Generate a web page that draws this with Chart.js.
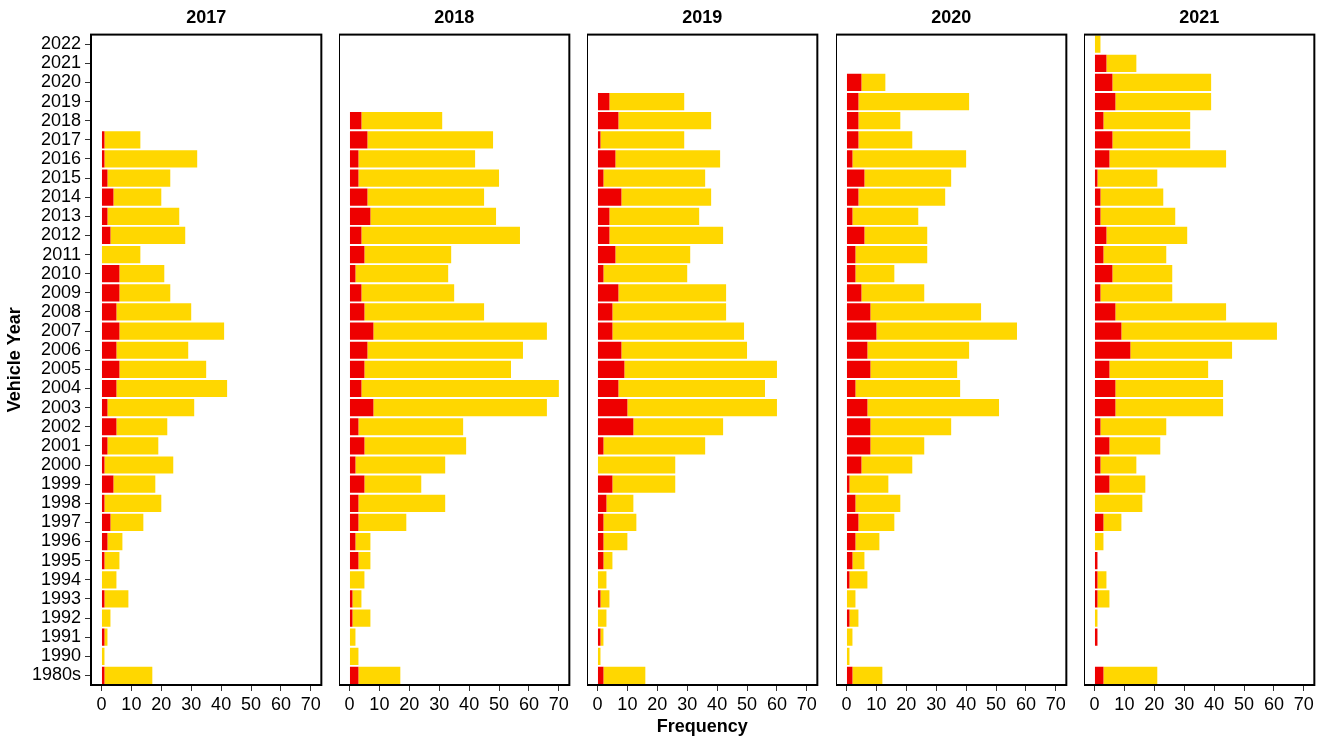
<!DOCTYPE html>
<html>
<head>
<meta charset="utf-8">
<script src="https://cdn.jsdelivr.net/npm/chart.js@4.4.1/dist/chart.umd.min.js"></script>
<style>
  html, body { margin: 0; padding: 0; background: #fff; }
  #wrap { position: relative; width: 1330px; height: 738px; overflow: hidden; background: #fff; }
  #wrap canvas { position: absolute; top: 0; }
</style>
</head>
<body>
<div id="wrap"></div>
<script>
// Vehicle model years, bottom to top
const categories = ['1980s', '1990', '1991', '1992', '1993', '1994', '1995', '1996', '1997', '1998',
  '1999', '2000', '2001', '2002', '2003', '2004', '2005', '2006', '2007', '2008', '2009', '2010',
  '2011', '2012', '2013', '2014', '2015', '2016', '2017', '2018', '2019', '2020', '2021', '2022'];
const xTicks = [0, 10, 20, 30, 40, 50, 60, 70];
const panelYears = ['2017', '2018', '2019', '2020', '2021'];

// Counts per vehicle year (same order as categories): red segment, then gold segment
const red2017  = [1,0,1,0,1,0,1,2,3,1,4,1,2,5,2,5,6,5,6,5,6,6,0,3,2,4,2,1,1,0,0,0,0,0];
const gold2017 = [16,1,1,3,8,5,5,5,11,19,14,23,17,17,29,37,29,24,35,25,17,15,13,25,24,16,21,31,12,0,0,0,0,0];

const red2018  = [3,0,0,1,1,0,3,2,3,3,5,2,5,3,8,4,5,6,8,5,4,2,5,4,7,6,3,3,6,4,0,0,0,0];
const gold2018 = [14,3,2,6,3,5,4,5,16,29,19,30,34,35,58,66,49,52,58,40,31,31,29,53,42,39,47,39,42,27,0,0,0,0];

const red2019  = [2,0,1,0,1,0,2,2,2,3,5,0,2,12,10,7,9,8,5,5,7,2,6,4,4,8,2,6,1,7,4,0,0,0];
const gold2019 = [14,1,1,3,3,3,3,8,11,9,21,26,34,30,50,49,51,42,44,38,36,28,25,38,30,30,34,35,28,31,25,0,0,0];

const red2020  = [2,0,0,1,0,1,2,3,4,3,1,5,8,8,7,3,8,7,10,8,5,3,3,6,2,4,6,2,4,4,4,5,0,0];
const gold2020 = [10,1,2,3,3,6,4,8,12,15,13,17,18,27,44,35,29,34,47,37,21,13,24,21,22,29,29,38,18,14,37,8,0,0];

const red2021  = [3,0,1,0,1,1,1,0,3,0,5,2,5,2,7,7,5,12,9,7,2,6,3,4,2,2,1,5,6,3,7,6,4,0];
const gold2021 = [18,0,0,1,4,3,0,3,6,16,12,12,17,22,36,36,33,34,52,37,24,20,21,27,25,21,20,39,26,29,32,33,10,2];

const redSeries  = [red2017, red2018, red2019, red2020, red2021];
const goldSeries = [gold2017, gold2018, gold2019, gold2020, gold2021];

const RED = '#EE0000';
const GOLD = '#FFD700';
const FONT = "'Liberation Sans', Arial, Helvetica, sans-serif";

Chart.defaults.font.family = FONT;
Chart.defaults.color = '#000';

// Facet geometry: left edge of each panel's plotting area and its width
const panelLeft = [91, 339, 587, 836, 1084];
const panelWidth = 233;
const yAxisWidth = 91;
const xAxisHeight = 53;

// Black frame around each facet's plotting area
const panelFrame = {
  id: 'panelFrame',
  afterDatasetsDraw(chart) {
    const { ctx, chartArea: a } = chart;
    ctx.save();
    ctx.strokeStyle = '#000';
    ctx.lineWidth = 2;
    ctx.strokeRect(a.left, a.top, a.right - a.left, a.bottom - a.top);
    ctx.restore();
  }
};

const wrap = document.getElementById('wrap');

panelYears.forEach((year, i) => {
  const first = i === 0;
  const canvas = document.createElement('canvas');
  const left = first ? 0 : panelLeft[i];
  const width = first ? panelLeft[0] + panelWidth : panelWidth;
  canvas.width = width;
  canvas.height = 738;
  canvas.style.left = left + 'px';
  canvas.style.width = width + 'px';
  canvas.style.height = '738px';
  wrap.appendChild(canvas);

  new Chart(canvas.getContext('2d'), {
    type: 'bar',
    data: {
      labels: categories,
      datasets: [
        { data: redSeries[i], backgroundColor: RED, borderWidth: 0,
          barPercentage: 0.9, categoryPercentage: 1.0 },
        { data: goldSeries[i], backgroundColor: GOLD, borderWidth: 0,
          barPercentage: 0.9, categoryPercentage: 1.0 }
      ]
    },
    options: {
      indexAxis: 'y',
      responsive: false,
      animation: false,
      devicePixelRatio: 1,
      layout: { padding: 0, autoPadding: false },
      plugins: {
        legend: { display: false },
        tooltip: { enabled: false },
        title: {
          display: true,
          fullSize: false,
          text: year,
          color: '#000',
          font: { size: 18, weight: 'bold', lineHeight: 1.2 },
          padding: { top: 7, bottom: 6 }
        }
      },
      scales: {
        x: {
          type: 'linear',
          min: -3.5,
          max: 73.5,
          stacked: true,
          afterBuildTicks(scale) { scale.ticks = xTicks.map(v => ({ value: v })); },
          afterFit(scale) { scale.height = xAxisHeight; },
          grid: { drawOnChartArea: false, drawTicks: true, tickLength: 6, color: '#333', lineWidth: 1 },
          border: { display: false },
          ticks: { font: { size: 18 }, color: '#000', padding: 3, maxRotation: 0, autoSkip: false },
          title: {
            display: i === 2,
            text: 'Frequency',
            color: '#000',
            font: { size: 18, weight: 'bold', lineHeight: 1.2 },
            padding: { top: 0, bottom: 0 }
          }
        },
        y: {
          type: 'category',
          reverse: true,
          stacked: true,
          offset: true,
          display: first,
          afterFit(scale) { scale.width = first ? yAxisWidth : 0; },
          grid: { offset: false, drawOnChartArea: false, drawTicks: true, tickLength: 6, color: '#333', lineWidth: 1 },
          border: { display: false },
          ticks: { font: { size: 18 }, color: '#000', padding: 4, autoSkip: false },
          title: {
            display: first,
            text: 'Vehicle Year',
            color: '#000',
            font: { size: 18, weight: 'bold', lineHeight: 1.2 },
            padding: { top: 4, bottom: 0 }
          }
        }
      }
    },
    plugins: [panelFrame]
  });
});
</script>
</body>
</html>
